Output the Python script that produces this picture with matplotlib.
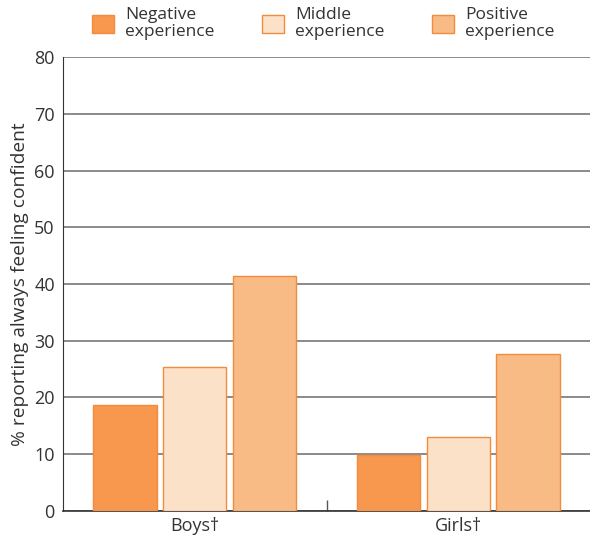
import matplotlib
matplotlib.use("Agg")
import matplotlib.pyplot as plt
import numpy as np

categories = ["Boys\u2020", "Girls\u2020"]
series_names = ["Negative\nexperience", "Middle\nexperience", "Positive\nexperience"]
negative = [18.7, 9.9]
middle = [25.4, 13.0]
positive = [41.4, 27.7]
yticks = [0, 10, 20, 30, 40, 50, 60, 70, 80]

colors = ["#F7984E", "#FCE1C9", "#F8BB85"]
edge = "#F38B3C"
text_color = "#333333"

plt.rcParams['font.family'] = ['Open Sans', 'DejaVu Sans']

fig = plt.figure(figsize=(5.9, 5.41), dpi=100)
ax = fig.add_axes([0.107, 0.0555, 0.893, 0.839])

x = np.arange(len(categories))
w = 0.24
step = 0.265
handles = []
for i, (vals, c) in enumerate(zip([negative, middle, positive], colors)):
    b = ax.bar(x + (i - 1) * step, vals, width=w, color=c, edgecolor=edge,
               linewidth=1.0, zorder=3, label=series_names[i])
    handles.append(b)

ax.set_xlim(-0.5, 1.5)
ax.set_ylim(0, 80)
ax.set_yticks(yticks)
ax.tick_params(axis='y', length=0, labelsize=13, colors=text_color, pad=6)
ax.set_xticks(x)
ax.set_xticklabels(categories)
ax.tick_params(axis='x', length=0, labelsize=13, colors=text_color, pad=4)
ax.set_xticks([0.5], minor=True)
ax.tick_params(axis='x', which='minor', direction='in', length=8, width=1, color='#555555')
ax.yaxis.grid(True, color='#777777', linewidth=1.2, zorder=0)
for s in ['top', 'right']:
    ax.spines[s].set_visible(False)
ax.spines['left'].set_color('#333333')
ax.spines['bottom'].set_color('#333333')
ax.spines['bottom'].set_linewidth(1.2)
ax.set_ylabel("% reporting always feeling confident", fontsize=13.8, color=text_color, labelpad=4)

leg = fig.legend(handles=handles, loc='upper left', bbox_to_anchor=(0.133, 1.012), ncol=3,
                 frameon=False, fontsize=12.5, handlelength=1.27, handleheight=1.27,
                 handletextpad=0.62, columnspacing=2.75, labelspacing=0.2, borderpad=0.3)
for t in leg.get_texts():
    t.set_color(text_color)
    t.set_linespacing(1.05)

fig.savefig("out.png", dpi=100)
